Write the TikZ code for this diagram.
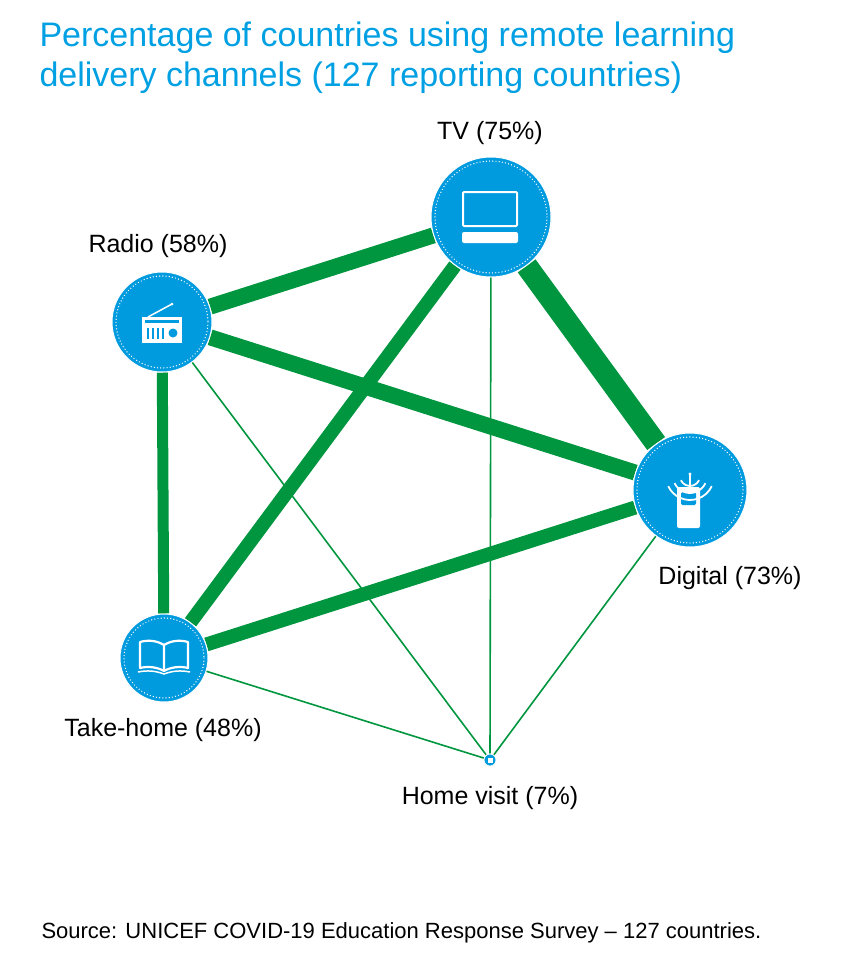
\documentclass[tikz,border=0pt]{standalone}
\usepackage{fontspec}
\setmainfont{Liberation Sans}
\begin{document}
\definecolor{ublue}{HTML}{009ADE}
\definecolor{tblue}{HTML}{00A0E3}
\definecolor{egreen}{HTML}{00963F}
\begin{tikzpicture}[x=1pt,y=-1pt,
  hub/.style={circle,fill=ublue,draw=white,line width=1pt,inner sep=0pt},
  edge/.style={egreen},
  lab/.style={font=\fontsize{25}{28}\selectfont,text=black},
  ic/.style={white,line width=2pt}]
\useasboundingbox (0,0) rectangle (849,970);
\node[anchor=west,text=tblue,font=\fontsize{34}{40}\selectfont] (t1) at (36,38) {Percentage of countries using remote learning};
\node[anchor=west,text=tblue,font=\fontsize{34}{40}\selectfont] (t2) at (36,78) {delivery channels (127 reporting countries)};
\node[hub,minimum size=120] (tv) at (491,217) {};
\node[hub,minimum size=100] (ra) at (162,322) {};
\node[hub,minimum size=114] (di) at (690,490) {};
\node[hub,minimum size=88] (th) at (164,658) {};
\node[hub,minimum size=12] (hv) at (490,760) {};
\draw[edge,line width=22] (tv) -- (di);
\draw[edge,line width=16] (tv) -- (ra);
\draw[edge,line width=16] (ra) -- (di);
\draw[edge,line width=14] (tv) -- (th);
\draw[edge,line width=14] (th) -- (di);
\draw[edge,line width=11] (ra) -- (th);
\draw[edge,line width=1.6] (ra.center) -- (hv);
\draw[edge,line width=1.6] (tv.center) -- (hv);
\draw[edge,line width=1.6] (di.center) -- (hv);
\draw[edge,line width=1.6] (th.center) -- (hv);
\foreach \n/\r in {tv/60,ra/50,di/57,th/44}{
  \fill[ublue,draw=white,line width=1pt] (\n) circle (\r);
  \draw[white,line width=1.4pt,dash pattern=on 0pt off 3.2pt,line cap=round] (\n) circle (\r-4);
}
\fill[ublue,draw=white,line width=0.8pt] (hv) circle (6);
\fill[white] (487.5,757.5) rectangle (492.5,763);
% TV icon
\draw[ic,rounded corners=1] (463,192) rectangle (517,226);
\fill[white,rounded corners=2] (462,232) rectangle (518,243);
% Radio icon
\fill[white] (142,317) rectangle (182,343);
\fill[ublue] (145,320) rectangle (179,323);
\foreach \x in {147,152,157,162}{\fill[ublue] (\x,328) rectangle (\x+2,339);}
\fill[ublue] (173,333) circle (4.5);
\draw[white,line width=1.5pt] (148,317) -- (172,304);
\fill[white] (172,304) circle (1.5);
% Phone icon
\fill[white,rounded corners=2] (677,487) rectangle (700,528);
\fill[ublue,rounded corners=1.5] (681,492) rectangle (696,505);
\draw[white,line width=1.4pt] (690,487) -- (690,474);
\fill[white] (690,474) circle (1.6);
\foreach \r in {10,17,24}{\draw[white,line width=1.8pt] (690,476) ++(25:\r) arc (25:155:\r);}
% Book icon
\draw[white,line width=2.2pt,line join=round] (164,671) -- (164,645) .. controls (156,640) and (147,640) .. (140,642) -- (140,668) .. controls (148,666) and (157,667) .. (164,671)
  .. controls (171,667) and (180,666) .. (188,668) -- (188,642) .. controls (181,640) and (172,640) .. (164,645);
\draw[white,line width=1.5pt] (138,672) .. controls (148,670) and (156,671) .. (164,674) .. controls (172,671) and (180,670) .. (190,672);
% labels
\node[lab] (ltv) at (490,133) {TV (75\%)};
\node[lab] (lra) at (158,246) {Radio (58\%)};
\node[lab] (ldi) at (730,578) {Digital (73\%)};
\node[lab] (lth) at (163,730) {Take-home (48\%)};
\node[lab] (lhv) at (490,798) {Home visit (7\%)};
\node[anchor=west,font=\fontsize{22}{26}\selectfont] (src) at (38,933) {Source: UNICEF COVID-19 Education Response Survey – 127 countries.};
\end{tikzpicture}
\end{document}
